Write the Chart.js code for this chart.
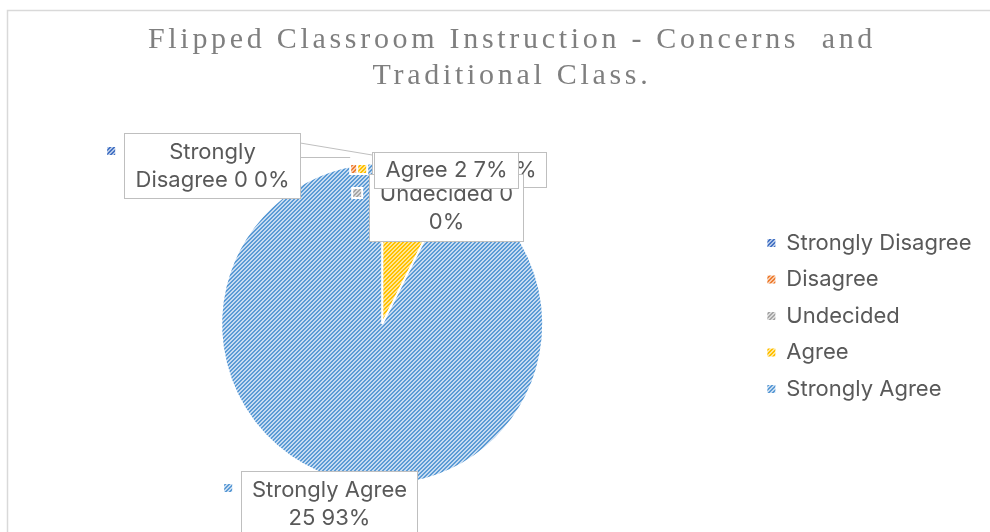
<!DOCTYPE html>
<html>
<head>
<meta charset="utf-8">
<script src="https://cdn.jsdelivr.net/npm/chart.js@4"></script>
<style>
  html, body { margin: 0; padding: 0; background: #fff; }
  #wrap { width: 990px; height: 532px; }
</style>
</head>
<body>
<div id="wrap"><canvas id="pieChart" width="990" height="532"></canvas></div>
<script>
// Data
const categories = ["Strongly Disagree", "Disagree", "Undecided", "Agree", "Strongly Agree"];
const counts = [0, 0, 0, 2, 25];
const chartTitle = ["Flipped Classroom Instruction - Concerns  and", "Traditional Class."];

// Hatch colours (stripe, background)
const stripeColors = ["#4472c4", "#ed7d31", "#a5a5a5", "#ffc000", "#5b9bd5"];
const groundColors = ["#b4c7e7", "#f8cbad", "#dbdbdb", "#ffe699", "#c6dbf1"];

const ctx = document.getElementById("pieChart").getContext("2d");
const textColor = "#595959";
const labelFont = '22px Inter';

function makeHatch(fg, bg) {
  const c = document.createElement("canvas");
  c.width = 4; c.height = 4;
  const t = c.getContext("2d");
  t.fillStyle = bg;
  t.fillRect(0, 0, 4, 4);
  t.fillStyle = fg;
  for (let x = 0; x < 4; x++) {
    for (let y = 0; y < 4; y++) {
      if ((x + y) % 4 < 2) t.fillRect(x, y, 1, 1);
    }
  }
  return ctx.createPattern(c, "repeat");
}
const hatches = stripeColors.map((c, i) => makeHatch(c, groundColors[i]));

// Label box layout, offsets from pie centre: [dx, dy, w, h], marker [mx, my]
const labelLayout = [
  { box: [-258, -191, 176, 65], marker: [-271, -173] },
  { box: [-10, -172, 174, 35], marker: [-27, -155] },
  { box: [-13, -150, 154, 67], marker: [-25, -131] },
  { box: [-8, -172, 144, 36], marker: [-20, -155] },
  { box: [-141, 147, 176, 65], marker: [-154, 164] }
];
const drawOrder = [1, 2, 3, 0, 4];

function wrapText(c, text, maxW) {
  const words = text.split(" ");
  const lines = [];
  let cur = "";
  words.forEach(w => {
    const test = cur ? cur + " " + w : w;
    if (cur && c.measureText(test).width > maxW) {
      lines.push(cur);
      cur = w;
    } else {
      cur = test;
    }
  });
  if (cur) lines.push(cur);
  return lines;
}

const framePlugin = {
  id: "frame",
  beforeDraw(chart) {
    const c = chart.ctx;
    c.save();
    c.strokeStyle = "#d9d9d9";
    c.lineWidth = 1.5;
    c.strokeRect(7.5, 10.5, 1000, 540);
    c.font = '30px "Liberation Serif"';
    c.letterSpacing = "3.7px";
    c.fillStyle = "#7f7f7f";
    c.textAlign = "center";
    c.textBaseline = "alphabetic";
    c.fillText(chartTitle[0], 512, 48);
    c.fillText(chartTitle[1], 512, 84);
    c.restore();
  },
  afterLayout(chart) {
    chart.legend.top -= 8;
    chart.legend.bottom -= 8;
  }
};

const labelPlugin = {
  id: "calloutLabels",
  afterDatasetsDraw(chart) {
    const arc = chart.getDatasetMeta(0).data[0];
    const cx = arc.x, cy = arc.y;
    const data = chart.data.datasets[0].data;
    const total = data.reduce((a, b) => a + b, 0);
    const c = chart.ctx;
    c.save();

    // leader lines
    c.strokeStyle = "#bfbfbf";
    c.lineWidth = 1;
    c.beginPath();
    c.moveTo(cx - 82, cy - 181);
    c.lineTo(cx - 10, cy - 169);
    c.moveTo(cx - 82, cy - 166.5);
    c.lineTo(cx - 32, cy - 166.5);
    c.stroke();

    c.font = labelFont;
    c.textAlign = "center";
    c.textBaseline = "middle";
    drawOrder.forEach(i => {
      const L = labelLayout[i];
      const pct = Math.round(data[i] / total * 100);
      const text = categories[i] + " " + data[i] + " " + pct + "%";
      // marker
      const mx = cx + L.marker[0], my = cy + L.marker[1];
      c.fillStyle = "#fff";
      c.fillRect(mx - 6, my - 6, 12, 12);
      c.fillStyle = chart.data.datasets[0].backgroundColor[i];
      c.fillRect(mx - 4, my - 4, 8, 8);
      // box
      const [dx, dy, w, h] = L.box;
      const bx = Math.round(cx + dx) + 0.5, by = Math.round(cy + dy) + 0.5;
      c.fillStyle = "#fff";
      c.fillRect(bx, by, w, h);
      c.strokeStyle = "#bfbfbf";
      c.strokeRect(bx, by, w, h);
      const lines = wrapText(c, text, w - 10);
      const lh = 28;
      const startY = by + h / 2 - (lines.length - 1) * lh / 2;
      c.fillStyle = textColor;
      lines.forEach((ln, k) => c.fillText(ln, bx + w / 2, startY + k * lh));
    });
    c.restore();
  }
};

const pieChart = new Chart(ctx, {
  type: "pie",
  data: {
    labels: categories,
    datasets: [{
      data: counts,
      backgroundColor: hatches,
      borderColor: "#ffffff",
      borderWidth: 2,
      radius: 161
    }]
  },
  options: {
    responsive: false,
    animation: false,
    layout: { padding: { left: 11.5, right: 8.5, top: 150, bottom: 34 } },
    plugins: {
      tooltip: { enabled: false },
      legend: {
        position: "right",
        labels: {
          boxWidth: 8,
          boxHeight: 8,
          padding: 14.5,
          color: textColor,
          font: { family: "Inter", size: 22 },
          generateLabels() {
            return categories.map((t, i) => ({
              text: t,
              fillStyle: hatches[i],
              strokeStyle: "rgba(0,0,0,0)",
              lineWidth: 0,
              hidden: false,
              index: i,
              fontColor: textColor
            }));
          }
        }
      }
    }
  },
  plugins: [framePlugin, labelPlugin]
});
</script>
</body>
</html>
